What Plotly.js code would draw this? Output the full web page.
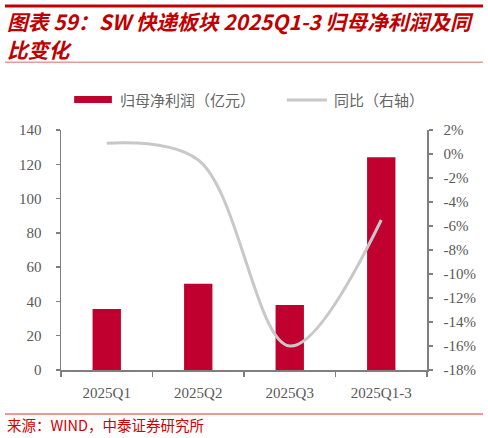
<!DOCTYPE html>
<html>
<head>
<meta charset="utf-8">
<script src="https://cdn.plot.ly/plotly-3.0.1.min.js"></script>
<style>
  html, body { margin: 0; padding: 0; background: #fff; }
  #chart { width: 488px; height: 438px; }
</style>
</head>
<body>
<div id="chart"></div>
<script>
// data
var quarters = ['2025Q1', '2025Q2', '2025Q3', '2025Q1-3'];
var profit = [35.6, 50.3, 37.9, 124.1];      // 亿元
var yoy = [0.9, -0.5, -16.0, -5.5];          // %
var pctTicks = [2, 0, -2, -4, -6, -8, -10, -12, -14, -16, -18];
var pctLabels = pctTicks.map(function (v) { return v + '%'; });

var red = '#C00000';
var barRed = '#C0002F';
var grey = '#595959';
var axisGrey = '#7F7F7F';
var lineGrey = '#C8C8C8';
var cjk = '"Noto Sans CJK SC", sans-serif';
var serif = '"Liberation Serif", "DejaVu Serif", serif';

var traces = [
  {
    x: quarters,
    y: profit,
    type: 'bar',
    name: '归母净利润（亿元）',
    marker: { color: barRed },
    hoverinfo: 'x+y'
  },
  {
    x: quarters,
    y: yoy,
    type: 'scatter',
    mode: 'lines',
    name: '同比（右轴）',
    yaxis: 'y2',
    line: { color: lineGrey, width: 3, shape: 'spline', smoothing: 1 },
    hoverinfo: 'x+y'
  }
];

var tickFont = { family: serif, size: 15, color: grey };

var layout = {
  width: 488,
  height: 438,
  margin: { l: 61, r: 61, t: 130, b: 68 },
  paper_bgcolor: '#fff',
  plot_bgcolor: '#fff',
  showlegend: false,
  bargap: 0.69,
  font: { family: serif, size: 15, color: grey },
  xaxis: {
    type: 'category',
    showline: true, linecolor: axisGrey, linewidth: 1.5,
    ticks: 'outside', tickson: 'boundaries', ticklen: 5, tickcolor: axisGrey, tickwidth: 1.5,
    ticklabelstandoff: 8,
    showgrid: false, zeroline: false,
    tickfont: tickFont
  },
  yaxis: {
    range: [0, 140], dtick: 20,
    showline: true, linecolor: axisGrey, linewidth: 1.5,
    ticks: 'outside', ticklen: 4, tickcolor: axisGrey, tickwidth: 1.5,
    ticklabelstandoff: 11,
    showgrid: false, zeroline: false,
    tickfont: tickFont
  },
  yaxis2: {
    overlaying: 'y', side: 'right',
    range: [-18, 2],
    tickmode: 'array', tickvals: pctTicks, ticktext: pctLabels,
    showline: true, linecolor: axisGrey, linewidth: 1.5,
    ticks: 'outside', ticklen: 4, tickcolor: axisGrey, tickwidth: 1.5,
    ticklabelstandoff: 8,
    showgrid: false, zeroline: false,
    tickfont: tickFont
  },
  shapes: [
    // page rules
    { type: 'rect', xref: 'paper', yref: 'paper', x0: -0.153, x1: 1.153, y0: 1.5104, y1: 1.5229,
      fillcolor: '#C00000', line: { width: 0 } },
    { type: 'rect', xref: 'paper', yref: 'paper', x0: -0.153, x1: 1.153, y0: 1.2792, y1: 1.2854,
      fillcolor: '#E69A9A', line: { width: 0 } },
    { type: 'rect', xref: 'paper', yref: 'paper', x0: -0.153, x1: 1.153, y0: -0.1812, y1: -0.1854,
      fillcolor: '#E03030', line: { width: 0 } },
    // legend swatches
    { type: 'rect', xref: 'paper', yref: 'paper', x0: 0.036, x1: 0.139, y0: 1.142, y1: 1.112,
      fillcolor: barRed, line: { width: 0 } },
    { type: 'line', xref: 'paper', yref: 'paper', x0: 0.617, x1: 0.727, y0: 1.125, y1: 1.125,
      line: { color: lineGrey, width: 3 } }
  ],
  annotations: [
    { xref: 'paper', yref: 'paper', x: -0.152, y: 1.4555, xanchor: 'left', yanchor: 'middle',
      showarrow: false,
      text: '<b><i>图表 59：SW 快递板块 2025Q1-3 归母净利润及同</i></b>',
      font: { family: cjk, size: 20.8, color: red } },
    { xref: 'paper', yref: 'paper', x: -0.152, y: 1.336, xanchor: 'left', yanchor: 'middle',
      showarrow: false,
      text: '<b><i>比变化</i></b>',
      font: { family: cjk, size: 20.8, color: red } },
    { xref: 'paper', yref: 'paper', x: 0.156, y: 1.127, xanchor: 'left', yanchor: 'middle',
      showarrow: false, text: '归母净利润（亿元）',
      font: { family: cjk, size: 15, color: '#666666' } },
    { xref: 'paper', yref: 'paper', x: 0.74, y: 1.127, xanchor: 'left', yanchor: 'middle',
      showarrow: false, text: '同比（右轴）',
      font: { family: cjk, size: 15, color: '#666666' } },
    { xref: 'paper', yref: 'paper', x: -0.152, y: -0.225, xanchor: 'left', yanchor: 'middle',
      showarrow: false, text: '来源：WIND，中泰证券研究所',
      font: { family: cjk, size: 14.5, color: '#D00000' } }
  ]
};

Plotly.newPlot('chart', traces, layout, { displayModeBar: false, staticPlot: true });
</script>
</body>
</html>
